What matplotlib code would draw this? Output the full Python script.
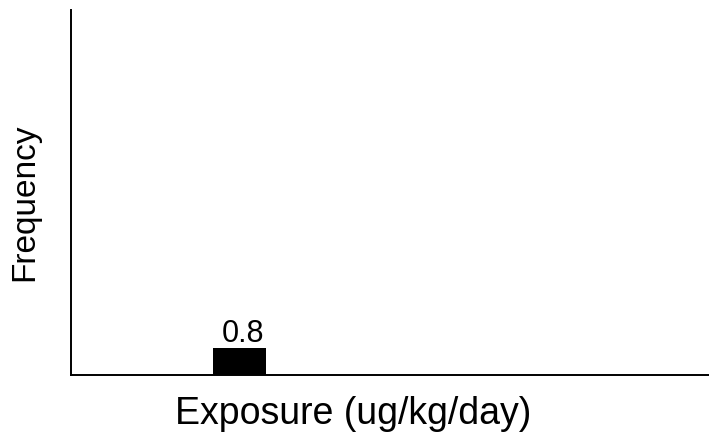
import matplotlib
matplotlib.use('Agg')
import matplotlib.pyplot as plt

plt.rcParams['font.family'] = ['Liberation Sans', 'DejaVu Sans']

# histogram data (one bin only)
exposure_bins = [3.17]
frequency = [0.8]
bar_labels = ['0.8']

fig = plt.figure(figsize=(7.09, 4.32), dpi=100)
ax = fig.add_axes([71 / 709, 57 / 432, 638 / 709, 365 / 432])

bars = ax.bar(exposure_bins, frequency, width=1.0, color='black')
for b, lab in zip(bars, bar_labels):
    ax.annotate(lab, (b.get_x() + b.get_width() / 2, b.get_height()),
                xytext=(2.5, 4.3), textcoords='offset points',
                ha='center', va='baseline', fontsize=22)

ax.set_xlim(0, 12)
ax.set_ylim(0, 10.9)
ax.set_xticks([])
ax.set_yticks([])
for side in ['top', 'right']:
    ax.spines[side].set_visible(False)
for side in ['left', 'bottom']:
    ax.spines[side].set_linewidth(1.4)
    ax.spines[side].set_color('black')

fig.text(353.5 / 709, 8 / 432, 'Exposure (ug/kg/day)', ha='center',
         va='baseline', fontsize=27)
fig.text(33.3 / 709, (432 - 202.5) / 432, 'Frequency', rotation=90,
         rotation_mode='anchor', ha='center', va='baseline', fontsize=24)

fig.savefig('out.png', dpi=100)
